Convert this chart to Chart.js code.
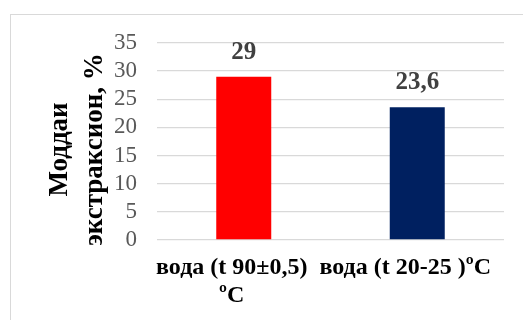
<!DOCTYPE html>
<html>
<head>
<meta charset="utf-8">
<script src="https://cdn.jsdelivr.net/npm/chart.js@4/dist/chart.umd.min.js"></script>
<style>
  html, body { margin: 0; padding: 0; background: #ffffff; }
  #wrap { position: relative; width: 523px; height: 320px; overflow: hidden; }
  #frame { position: absolute; left: 10px; top: 14px; width: 600px; height: 400px; border: 1px solid #d9d9d9; box-sizing: border-box; }
  #chart { position: absolute; left: 0; top: 0; }
</style>
</head>
<body>
<div id="wrap">
  <div id="frame"></div>
  <canvas id="chart" width="523" height="320"></canvas>
</div>
<script>
// Categories, values and axis ticks
const categories = [['вода (t 90±0,5)', 'ºC'], 'вода (t 20-25 )ºC'];
const values = [29, 23.6];
const barColors = ['#ff0000', '#002060'];
const yTicks = [0, 5, 10, 15, 20, 25, 30, 35];
const yTitle = ['Моддаи', 'экстраксион, %'];

const SERIF = '"Liberation Serif", "Times New Roman", serif';

// Value labels above each bar, decimal comma
const valueLabels = {
  id: 'valueLabels',
  afterDatasetsDraw(chart) {
    const ctx = chart.ctx;
    const meta = chart.getDatasetMeta(0);
    ctx.save();
    ctx.font = 'bold 25px ' + SERIF;
    ctx.fillStyle = '#404040';
    ctx.textAlign = 'center';
    ctx.textBaseline = 'alphabetic';
    meta.data.forEach((bar, i) => {
      const txt = String(values[i]).replace('.', ',');
      ctx.fillText(txt, bar.x, bar.y - 18);
    });
    ctx.restore();
  }
};

// Two-line rotated title beside the value axis, sitting a little below the axis middle
const yAxisTitle = {
  id: 'yAxisTitle',
  afterDraw(chart) {
    const s = chart.scales.y;
    const ctx = chart.ctx;
    const cy = (s.top + s.bottom) / 2 + 8;
    const x0 = s.left + 50;
    const lineGap = 35;
    ctx.save();
    ctx.font = 'bold 27px ' + SERIF;
    ctx.fillStyle = '#000000';
    ctx.textAlign = 'center';
    ctx.textBaseline = 'middle';
    yTitle.forEach((line, i) => {
      ctx.save();
      ctx.translate(x0 + i * lineGap, cy);
      ctx.rotate(-Math.PI / 2);
      ctx.fillText(line, 0, 0);
      ctx.restore();
    });
    ctx.restore();
  }
};

new Chart(document.getElementById('chart'), {
  type: 'bar',
  data: {
    labels: categories,
    datasets: [{
      data: values,
      backgroundColor: barColors,
      borderWidth: 0,
      categoryPercentage: 1,
      barPercentage: 0.317
    }]
  },
  options: {
    responsive: false,
    animation: false,
    layout: { padding: { left: 10, top: 43, right: 19, bottom: 0 } },
    plugins: { legend: { display: false }, tooltip: { enabled: false } },
    scales: {
      x: {
        grid: { display: false, drawTicks: false },
        border: { display: false },
        ticks: {
          color: '#000000',
          font: { family: SERIF, size: 24, weight: 'bold', lineHeight: 1.2 },
          padding: 13,
          maxRotation: 0,
          autoSkip: false,
          labelOffset: -12
        },
        afterFit(scale) { scale.height = 80; }
      },
      y: {
        min: 0,
        max: 35,
        afterBuildTicks(scale) { scale.ticks = yTicks.map(v => ({ value: v })); },
        grid: { color: '#d9d9d9', lineWidth: 1.3, drawTicks: false },
        border: { display: false },
        ticks: {
          color: '#595959',
          font: { family: SERIF, size: 23 },
          padding: 20,
          autoSkip: false
        },
        title: { display: false },
        afterFit(scale) { scale.width = 147; }
      }
    }
  },
  plugins: [valueLabels, yAxisTitle]
});
</script>
</body>
</html>
